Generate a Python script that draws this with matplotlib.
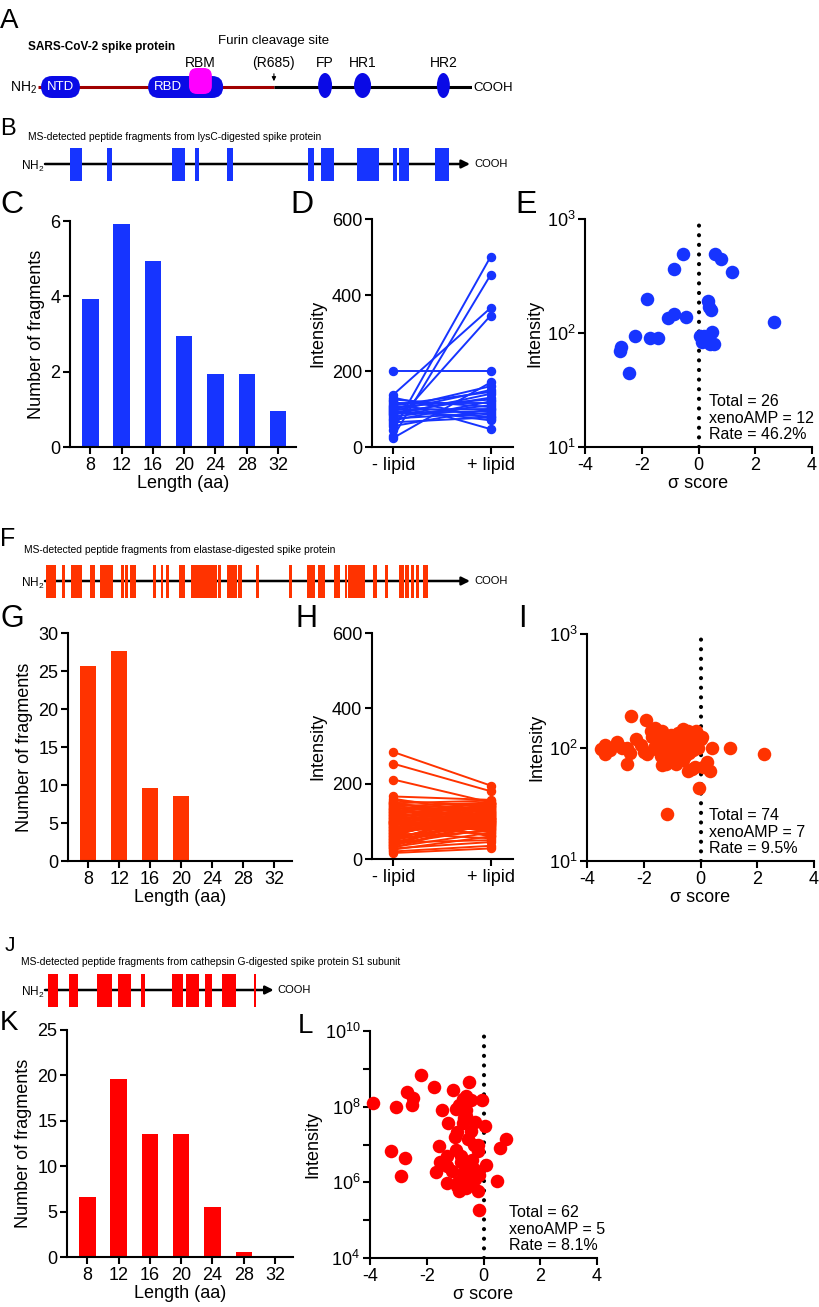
import numpy as np
import matplotlib.pyplot as plt
from matplotlib.patches import FancyBboxPatch, Ellipse
import matplotlib.transforms as mtransforms

plt.rcParams['font.family'] = ['Liberation Sans', 'DejaVu Sans']
plt.rcParams['mathtext.default'] = 'regular'
plt.rcParams['axes.unicode_minus'] = False
plt.rcParams['axes.linewidth'] = 1.5

# ---- colours
BLUE = '#1634ff'
DOMAIN_BLUE = '#0a0ae6'
ORANGE = '#ff3300'
RED = '#ff0000'

# ---- panel A: spike protein domains (residue positions)
spike_len = 1273
furin_site = 692
round_domains = ['NTD', 'RBD']
round_start = [9, 323]
round_end = [123, 543]
rbm_start, rbm_end = 443, 510
oval_domains = ['FP', 'HR1', 'HR2']
oval_center = [842, 952, 1189]
oval_width = [41, 50, 38]

# ---- MS-detected fragments (start/end residue)
lysc_start = [75, 186, 380, 449, 545, 788, 827, 934, 1042, 1060, 1168]
lysc_end = [111, 201, 419, 461, 563, 806, 866, 1000, 1054, 1090, 1210]
elast_start = [3, 50, 78, 135, 165, 228, 240, 255, 322, 347, 361, 402, 436, 477, 517,
               544, 579, 631, 730, 784, 819, 867, 899, 909, 981, 1018, 1061, 1079,
               1096, 1111, 1131]
elast_end = [33, 60, 110, 150, 205, 237, 248, 273, 332, 354, 370, 419, 475, 514, 526,
             576, 591, 642, 740, 809, 839, 884, 905, 958, 993, 1028, 1076, 1091,
             1106, 1119, 1147]
s1_len = 685
catg_start = [8, 72, 155, 220, 287, 381, 421, 478, 530, 626]
catg_end = [38, 98, 200, 258, 300, 412, 461, 501, 571, 632]

# ---- length histograms
lengths = [8, 12, 16, 20, 24, 28, 32]
lysc_counts = [3.94, 5.91, 4.93, 2.94, 1.95, 1.95, 0.96]
elast_counts = [25.6, 27.6, 9.6, 8.6, 0, 0, 0]
catg_counts = [6.56, 19.57, 13.56, 13.56, 5.54, 0.59, 0]

# ---- paired intensities (- lipid, + lipid)
lysc_minus = [199, 45, 28, 138, 60, 120, 130, 24, 100, 95, 110, 85, 90, 105, 70, 115,
              80, 125, 98, 88, 75, 108, 92, 65, 102, 55]
lysc_plus = [199, 501, 453, 366, 346, 47, 75, 170, 160, 150, 145, 140, 130, 125, 120,
             115, 110, 105, 100, 95, 90, 85, 80, 78, 70, 100]
elast_minus = [284, 253, 211, 166, 160, 155, 152, 150, 148, 145, 143, 140, 138, 136, 134,
               132, 130, 128, 126, 124, 122, 120, 118, 116, 114, 112, 110, 108, 106, 104,
               102, 100, 99, 98, 97, 96, 95, 94, 92, 90, 88, 86, 84, 82, 80, 78, 76, 74,
               72, 70, 68, 66, 64, 62, 60, 58, 56, 54, 52, 50, 48, 46, 44, 42, 40, 38, 36,
               34, 32, 30, 28, 25, 20, 16]
elast_plus = [195, 180, 150, 157, 120, 140, 95, 110, 155, 130, 100, 150, 85, 125, 145,
              105, 90, 140, 115, 70, 135, 100, 150, 80, 120, 95, 145, 110, 60, 130, 105,
              90, 140, 75, 115, 125, 100, 85, 150, 110, 65, 95, 135, 120, 80, 105, 145,
              90, 130, 100, 55, 115, 125, 85, 140, 95, 110, 75, 120, 100, 135, 90, 50,
              105, 80, 115, 95, 125, 70, 100, 45, 60, 35, 28]

# ---- sigma score vs intensity
lysc_sigma = [-0.56, -0.86, -1.82, -1.08, -0.86, -0.44, -2.24, -1.71, -1.41, -2.74, -2.76,
              -2.44, 0.58, 0.79, 1.19, 0.32, 0.44, 0.38, 2.67, 0.47, 0.18, 0.29, 0.41,
              0.12, 0.53, 0.06]
lysc_int = [495, 363, 198, 135, 147, 139, 94, 90, 91, 75, 69, 45, 495, 445, 340, 192, 159,
            170, 126, 103, 95, 87, 80, 83, 80, 94]
elast_sigma = [-3.52, -3.38, -3.38, -3.2, -2.94, -2.75, -2.59, -2.47, -2.59, -2.45, -2.26,
               -1.91, -1.89, -1.7, -1.6, -1.55, -1.5, -1.45, -1.4, -1.35, -1.3, -1.25,
               -1.2, -1.18, -1.15, -1.1, -1.05, -1.0, -0.98, -0.95, -0.9, -0.88, -0.85,
               -0.8, -0.78, -0.75, -0.7, -0.68, -0.65, -0.6, -0.58, -0.55, -0.52, -0.5,
               -0.45, -0.45, -0.42, -0.4, -0.35, -0.32, -0.3, -0.25, -0.22, -0.2, -0.15,
               -0.1, -0.08, -0.04, 0.0, 0.05, 0.1, 0.22, 0.34, 0.4, 1.04, 2.25, -1.17,
               -1.65, -2.0, -1.75, -0.62, -0.3, -1.35, -2.1]
elast_int = [97, 105, 88, 95, 112, 100, 100, 90, 71, 188, 120, 173, 87, 125, 150, 110, 95,
             130, 85, 140, 115, 100, 72, 120, 90, 105, 130, 80, 110, 95, 120, 72, 100, 135,
             88, 115, 105, 125, 95, 145, 110, 85, 130, 100, 62, 140, 118, 90, 105, 135,
             125, 95, 112, 68, 140, 130, 100, 44, 120, 125, 68, 75, 62, 98, 98, 88, 26,
             100, 92, 140, 78, 65, 70, 105]
catg_sigma = [-3.9, -3.08, -3.27, -2.77, -2.92, -2.71, -2.47, -2.53,
              -2.21, -1.74, -1.06, -0.50, -0.62, -0.74, -0.45, -0.04, -1.48, -0.97, -0.62,
              -1.24, -0.74, 0.05, -0.92, -0.45, 0.79, 0.59, -1.56, -0.97, -0.33, -0.21,
              -1.53, -1.27, -0.80, -0.56, 0.08, -1.68, -0.74, -0.45, -0.15, -1.27, 0.47,
              -0.86, -0.62, -0.21, -0.15,
              -0.85, -0.6, -0.3, -1.0, -0.55, -0.8, -0.4, -1.1, -0.65, -0.35, -0.9, -0.5,
              -1.3, -0.7, -0.2, -0.95, -0.3]
catg_log_int = [8.10, 7.98, 6.83, 6.65, 6.17, 8.39, 8.22, 8.04,
                8.84, 8.51, 8.44, 8.64, 8.28, 8.20, 8.18, 8.18, 7.92, 7.93, 7.76, 7.58,
                7.56, 7.48, 7.32, 7.37, 7.14, 6.92, 6.95, 6.86, 6.99, 6.82, 6.55, 6.42,
                6.53, 6.42, 6.46, 6.26, 6.24, 6.20, 6.20, 5.98, 6.04, 5.76, 5.85, 5.76,
                5.28,
                8.05, 7.9, 7.6, 7.2, 7.15, 6.7, 6.6, 6.3, 6.05, 6.35, 6.0, 5.95, 6.7, 7.7,
                7.0, 5.9, 6.1]
stats_lysc = 'Total = 26\nxenoAMP = 12\nRate = 46.2%'
stats_elast = 'Total = 74\nxenoAMP = 7\nRate = 9.5%'
stats_catg = 'Total = 62\nxenoAMP = 5\nRate = 8.1%'

W, H = 819, 1307
fig = plt.figure(figsize=(W / 100, H / 100), dpi=100)


def box(l, t, r, b):
    return [l / W, 1 - b / H, (r - l) / W, (b - t) / H]


def ftext(x, y, s, **kw):
    fig.text(x / W, 1 - y / H, s, **kw)


def style(ax):
    ax.spines[['top', 'right']].set_visible(False)
    ax.tick_params(width=1.5, length=5, labelsize=13, pad=2)


# panel letters
for letter, x, y, size in [('A', 0, 28, 20), ('B', 0, 135, 17), ('C', 0, 213, 23),
                           ('D', 290, 213, 23), ('E', 515, 213, 23), ('F', 0, 546, 18),
                           ('G', 0, 627, 22), ('H', 296, 627, 22), ('I', 518, 627, 22),
                           ('J', 5, 951, 15), ('K', 0, 1030, 20), ('L', 298, 1033, 20)]:
    ftext(x, y, letter, fontsize=size, va='baseline', ha='left')

# ---------------- A
axA = fig.add_axes(box(38, 25, 472, 105))
rp = spike_len / (472 - 38)
axA.set_xlim(0, spike_len)
axA.set_ylim(-(105 - 87) * rp, (87 - 25) * rp)
axA.axis('off')
axA.plot([0, furin_site], [0, 0], color='#a00000', lw=2.2, solid_capstyle='butt', zorder=1)
axA.plot([furin_site, spike_len], [0, 0], color='k', lw=2.2, solid_capstyle='butt', zorder=1)
h = 22 * rp
for name, s, e in zip(round_domains, round_start, round_end):
    axA.add_patch(FancyBboxPatch((s, -h / 2), e - s, h,
                                 boxstyle='round,pad=0,rounding_size=%f' % (h / 2),
                                 fc=DOMAIN_BLUE, ec='none', zorder=3))
axA.text(67, -0.5 * rp, 'NTD', color='w', ha='center', va='center', fontsize=9.5, zorder=5)
axA.text(381, -0.5 * rp, 'RBD', color='w', ha='center', va='center', fontsize=9.5, zorder=5)
axA.add_patch(FancyBboxPatch((rbm_start, -7 * rp), rbm_end - rbm_start, 26 * rp,
                             boxstyle='round,pad=0,rounding_size=%f' % (8 * rp),
                             fc='#ff00ff', ec='none', zorder=4))
axA.text((rbm_start + rbm_end) / 2, 20 * rp, 'RBM', ha='center', va='baseline', fontsize=10)
for name, c, w in zip(oval_domains, oval_center, oval_width):
    axA.add_patch(Ellipse((c, 1.5 * rp), w, 25 * rp, fc=DOMAIN_BLUE, ec='none', zorder=3))
    axA.text(c, 20 * rp, name, ha='center', va='baseline', fontsize=10)
axA.text(furin_site, 20 * rp, '(R685)', ha='center', va='baseline', fontsize=10)
axA.text(furin_site, 43 * rp, 'Furin cleavage site', ha='center', va='baseline', fontsize=9.5)
axA.annotate('', xy=(furin_site, 3 * rp), xytext=(furin_site, 16 * rp),
             arrowprops=dict(arrowstyle='-|>', lw=0.8, color='k', mutation_scale=6))
axA.text(-2, -1 * rp, 'NH$_2$', ha='right', va='center', fontsize=10)
axA.text(spike_len + 4, -1 * rp, 'COOH', ha='left', va='center', fontsize=9.5)
ftext(28, 50, 'SARS-CoV-2 spike protein', fontsize=8.5, fontweight='bold', va='baseline')


# ---------------- fragment maps
def fragment_map(top, bottom, starts, ends, end_res, color, title, title_x, title_y):
    ax = fig.add_axes(box(45, top, 470, bottom))
    ax.set_xlim(0, spike_len)
    ax.set_ylim(-20, 20)
    ax.axis('off')
    ax.annotate('', xy=(end_res, 0), xytext=(0, 0),
                arrowprops=dict(arrowstyle='-|>', lw=1.8, color='k', mutation_scale=12,
                                shrinkA=0, shrinkB=0), zorder=1)
    ax.broken_barh([(s, e - s) for s, e in zip(starts, ends)], (-16.5, 33),
                   facecolors=color, zorder=3)
    ax.text(-3, -2, 'NH$_2$', ha='right', va='center', fontsize=8.5)
    ax.text(end_res + 12, 0, 'COOH', ha='left', va='center', fontsize=8)
    ftext(title_x, title_y, title, fontsize=7.4, va='baseline')


fragment_map(144, 184, lysc_start, lysc_end, spike_len, BLUE,
             'MS-detected peptide fragments from lysC-digested spike protein', 28, 140)
fragment_map(561, 601, elast_start, elast_end, spike_len, ORANGE,
             'MS-detected peptide fragments from elastase-digested spike protein', 24, 553)
fragment_map(970, 1010, catg_start, catg_end, s1_len, RED,
             'MS-detected peptide fragments from cathepsin G-digested spike protein S1 subunit', 21, 965)


# ---------------- histograms
def bar_panel(rect, counts, color, ymax, yticks):
    ax = fig.add_axes(box(*rect))
    ax.bar(lengths, counts, width=2.1, color=color)
    ax.set_xlim(5.4, 34.3)
    ax.set_ylim(0, ymax)
    ax.set_xticks(lengths)
    ax.set_yticks(yticks)
    ax.set_xlabel('Length (aa)', fontsize=13, labelpad=1)
    ax.set_ylabel('Number of fragments', fontsize=13, labelpad=4)
    style(ax)


bar_panel((70, 221, 296, 447), lysc_counts, BLUE, 6, [0, 2, 4, 6])
bar_panel((68, 633, 292, 861), elast_counts, ORANGE, 30, [0, 5, 10, 15, 20, 25, 30])
bar_panel((67, 1030, 293, 1257), catg_counts, RED, 25, [0, 5, 10, 15, 20, 25])


# ---------------- paired lines
def pair_panel(rect, minus, plus, color):
    ax = fig.add_axes(box(*rect))
    ax.plot([0, 1], np.vstack([minus, plus]), '-o', color=color, lw=1.4, ms=5.8, clip_on=False)
    ax.set_xlim(-0.22, 1.23)
    ax.set_ylim(0, 600)
    ax.set_yticks([0, 200, 400, 600])
    ax.set_xticks([0, 1])
    ax.set_xticklabels(['- lipid', '+ lipid'])
    ax.set_ylabel('Intensity', fontsize=13, labelpad=4)
    style(ax)


pair_panel((372, 219, 513, 447), lysc_minus, lysc_plus, BLUE)
pair_panel((372, 633, 513, 859), elast_minus, elast_plus, ORANGE)


# ---------------- sigma score scatter
def sigma_panel(rect, sigma, inten, color, ylim, yticks, minor, stats, stats_x):
    ax = fig.add_axes(box(*rect))
    ax.axvline(0, color='k', lw=3, ls=(0, (0.01, 2.3)), dash_capstyle='round', zorder=1)
    ax.scatter(sigma, inten, s=95, color=color, linewidths=0, zorder=3, clip_on=False)
    ax.set_yscale('log')
    ax.set_xlim(-4, 4)
    ax.set_ylim(*ylim)
    ax.set_xticks([-4, -2, 0, 2, 4])
    ax.set_yticks(yticks)
    ax.set_yticks(minor, minor=True)
    ax.tick_params(axis='y', which='minor', width=1.5, length=5, labelleft=False)
    ax.set_xlabel('σ score', fontsize=13, labelpad=1)
    ax.set_ylabel('Intensity', fontsize=13, labelpad=2)
    style(ax)
    trans = mtransforms.blended_transform_factory(ax.transData, ax.transAxes)
    ax.text(stats_x, 0.02, stats, transform=trans, fontsize=11.5, va='bottom',
            ha='left', linespacing=1.15)


sigma_panel((585, 219, 812, 447), lysc_sigma, lysc_int, BLUE, (10, 1000),
            [10, 100, 1000], [], stats_lysc, 0.37)
sigma_panel((587, 634, 814, 861), elast_sigma, elast_int, ORANGE, (10, 1000),
            [10, 100, 1000], [], stats_elast, 0.30)
sigma_panel((370, 1031, 597, 1258), catg_sigma, np.power(10.0, catg_log_int), RED,
            (1e4, 1e10), [1e4, 1e6, 1e8, 1e10], [1e5, 1e7, 1e9], stats_catg, 0.89)

fig.savefig('out.png', dpi=100)
